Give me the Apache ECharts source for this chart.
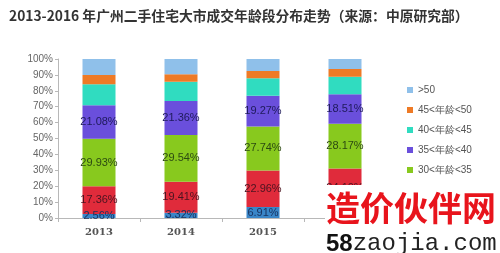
<!DOCTYPE html>
<html>
<head>
<meta charset="utf-8">
<script src="https://cdn.jsdelivr.net/npm/echarts@6/dist/echarts.min.js"></script>
<style>html,body{margin:0;padding:0;background:#fff}#c{width:500px;height:253px}</style>
</head>
<body>
<div id="c"></div>
<script>
var categories = ['2013', '2014', '2015', '2016'];
var under25 = [2.56, 3.32, 6.91, 7.02];
var age25_30 = [17.36, 19.41, 22.96, 24.10];
var age30_35 = [29.93, 29.54, 27.74, 28.17];
var age35_40 = [21.08, 21.36, 19.27, 18.51];
var age40_45 = [13.2, 12.1, 11.0, 11.1];
var age45_50 = [5.8, 4.7, 4.6, 4.8];
var over50 = [10.07, 9.57, 7.52, 6.3];
var seriesNames = ['<25', '25<年龄<30', '30<年龄<35', '35<年龄<40', '40<年龄<45', '45<年龄<50', '>50'];
var yTicks = ['0%', '10%', '20%', '30%', '40%', '50%', '60%', '70%', '80%', '90%', '100%'];

var colors = ['#3a86c8', '#e02b3b', '#88c91e', '#6a4fdc', '#30dcc0', '#ee7a26', '#8fc0ea'];
var labelColors = ['#17325e', '#4a1420', '#2c4a12', '#1e1a5a', null, null, null];
var dataSets = [under25, age25_30, age30_35, age35_40, age40_45, age45_50, over50];

var series = dataSets.map(function (d, i) {
  return {
    name: seriesNames[i],
    type: 'bar',
    stack: 'total',
    barWidth: 33,
    data: d,
    itemStyle: { color: colors[i] },
    label: labelColors[i] ? {
      show: true,
      position: 'inside',
      color: labelColors[i],
      fontSize: 11,
      fontFamily: 'Liberation Sans, Arial, sans-serif',
      formatter: function (p) { return p.value.toFixed(2) + '%'; }
    } : { show: false }
  };
});

var chart = echarts.init(document.getElementById('c'), null, { renderer: 'canvas' });
chart.setOption({
  animation: false,
  title: {
    text: '2013-2016 年广州二手住宅大市成交年龄段分布走势（来源：中原研究部）',
    left: 4, top: 4,
    textStyle: { fontSize: 13.8, fontWeight: 'bold', color: '#333', fontFamily: 'Noto Sans CJK SC' }
  },
  legend: {
    orient: 'vertical',
    left: 402, top: 79,
    itemWidth: 6, itemHeight: 6, itemGap: 8,
    icon: 'rect',
    data: seriesNames.slice().reverse(),
    textStyle: { fontSize: 10, color: '#555', lineHeight: 12, fontFamily: 'Liberation Sans, Arial, sans-serif' }
  },
  grid: { left: 58, top: 59, right: 114, bottom: 35 },
  xAxis: {
    type: 'category',
    data: categories,
    axisLine: { lineStyle: { color: '#b8b8b8' } },
    axisTick: { show: true, alignWithLabel: false, length: 4, lineStyle: { color: '#b8b8b8' } },
    axisLabel: { color: '#555', fontSize: 10, margin: 9, fontWeight: 'bold', fontFamily: 'DejaVu Serif, serif' }
  },
  yAxis: {
    type: 'value',
    min: 0, max: 100, interval: 10,
    axisLine: { show: true, lineStyle: { color: '#b8b8b8' } },
    axisTick: { show: true, length: 3, lineStyle: { color: '#b8b8b8' } },
    splitLine: { show: false },
    axisLabel: {
      color: '#666', fontSize: 10, margin: 5, fontFamily: 'Liberation Sans, Arial, sans-serif',
      formatter: function (v) { return yTicks[Math.round(v / 10)]; }
    }
  },
  series: series,
  graphic: [
    { type: 'rect', shape: { x: 325, y: 185, width: 175, height: 68 }, style: { fill: '#fff' }, z: 100 },
    { type: 'text', x: 326, y: 191, z: 101,
      style: { text: '造价伙伴网', fill: '#e8141c', fontSize: 34, fontWeight: 'bold', fontFamily: 'Noto Sans CJK SC' } },
    { type: 'text', x: 326, y: 232, z: 101,
      style: {
        text: '{a|58}{b|zaojia.com}',
        rich: {
          a: { fontSize: 24, fontWeight: 'bold', fill: '#111', fontFamily: 'Liberation Sans, Arial' },
          b: { fontSize: 24, fill: '#222', fontFamily: 'Liberation Mono, monospace' }
        }
      } }
  ]
});
</script>
</body>
</html>
